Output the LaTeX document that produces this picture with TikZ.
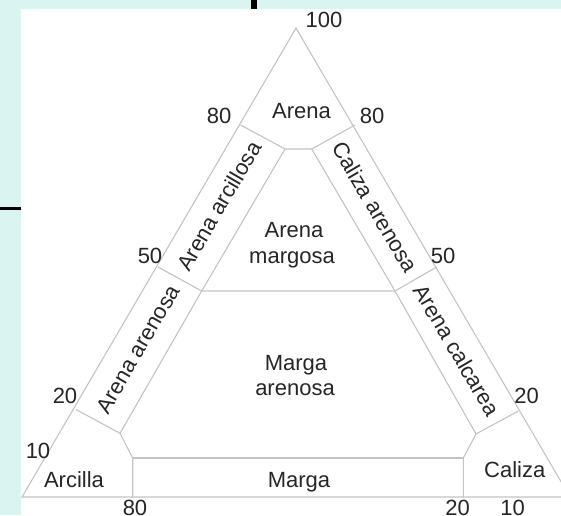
\documentclass[tikz,border=0pt]{standalone}
\usepackage{fontspec}
\setmainfont{Liberation Sans}
\definecolor{bgcyan}{HTML}{DAF5F1}
\definecolor{linegray}{HTML}{C4C4C4}
\definecolor{txt}{HTML}{262626}
\begin{document}
\begin{tikzpicture}[x=1pt,y=-1pt,
  zone/.style={draw=linegray,line width=1.1pt,line join=miter},
  lbl/.style={inner sep=0pt,anchor=base,text=txt,font=\fontsize{22}{25.5}\selectfont,align=center},
  slant/.style={inner sep=0pt,anchor=center,text=txt,font=\fontsize{22}{25.5}\selectfont}]
\useasboundingbox (0,0) rectangle (561,515);
\clip (0,0) rectangle (561,515);
\fill[bgcyan] (0,0) rectangle (561,515);
\fill[white] (21,9) rectangle (561,515);
\fill[black] (250.7,0) rectangle (257.3,9);
\fill[black] (0,206.7) rectangle (21,210);
% corners
\coordinate (A) at (296,28);
\coordinate (L) at (22,497);
\coordinate (R) at (570,497);
% side ticks
\coordinate (l80) at (240.7,125);
\coordinate (r80) at (355,125);
\coordinate (l50) at (158,267);
\coordinate (r50) at (436.7,267);
\coordinate (l20) at (76,409.5);
\coordinate (r20) at (518.3,411);
% inner points
\coordinate (i1) at (285,149);
\coordinate (i2) at (311.7,149);
\coordinate (i3) at (201.7,291);
\coordinate (i4) at (395,291);
\coordinate (i5) at (120,433.3);
\coordinate (i6) at (476,434);
\coordinate (i7) at (132.7,458);
\coordinate (i8) at (463.3,458);
\coordinate (b1) at (132.7,497);
\coordinate (b2) at (463.3,497);
% outline
\draw[zone] (L) -- (A) -- (R) -- cycle;
% region boundaries
\draw[zone] (l80) -- (i1) -- (i2) -- (r80);
\draw[zone] (i1) -- (i3) -- (i5);
\draw[zone] (i2) -- (i4) -- (i6);
\draw[zone] (l50) -- (i3) -- (i4) -- (r50);
\draw[zone] (l20) -- (i5) -- (i7) -- (b1);
\draw[zone] (r20) -- (i6) -- (i8) -- (b2);
\draw[zone] (i7) -- (i8);
% numbers
\node[lbl] (n100) at (324,27) {100};
\node[lbl] (n80l) at (219,123) {80};
\node[lbl] (n80r) at (372,123) {80};
\node[lbl] (n50l) at (150,263) {50};
\node[lbl] (n50r) at (443,263) {50};
\node[lbl] (n20l) at (65,403) {20};
\node[lbl] (n20r) at (526.5,403) {20};
\node[lbl] (n10l) at (38,458) {10};
\node[lbl] (n80b) at (135,515) {80};
\node[lbl] (n20b) at (457.5,515) {20};
\node[lbl] (n10b) at (512.5,515) {10};
% region names
\node[lbl] (arena) at (301.5,118) {Arena};
\node[lbl] (amarg1) at (294,237.7) {Arena};
\node[lbl] (amarg2) at (292,263.3) {margosa};
\node[lbl] (marena1) at (296,370) {Marga};
\node[lbl] (marena2) at (295,395) {arenosa};
\node[lbl] (marga) at (299,487) {Marga};
\node[lbl] (arcilla) at (74,487) {Arcilla};
\node[lbl] (caliza) at (514.7,477) {Caliza};
\node[slant,rotate=59.7] (aarc) at (219,206) {Arena arcillosa};
\node[slant,rotate=59.7] (aaren) at (138,349) {Arena arenosa};
\node[slant,rotate=-59.7] (caren) at (375,207) {Caliza arenosa};
\node[slant,rotate=-59.7] (acalc) at (457,350) {Arena calcarea};
\end{tikzpicture}
\end{document}
